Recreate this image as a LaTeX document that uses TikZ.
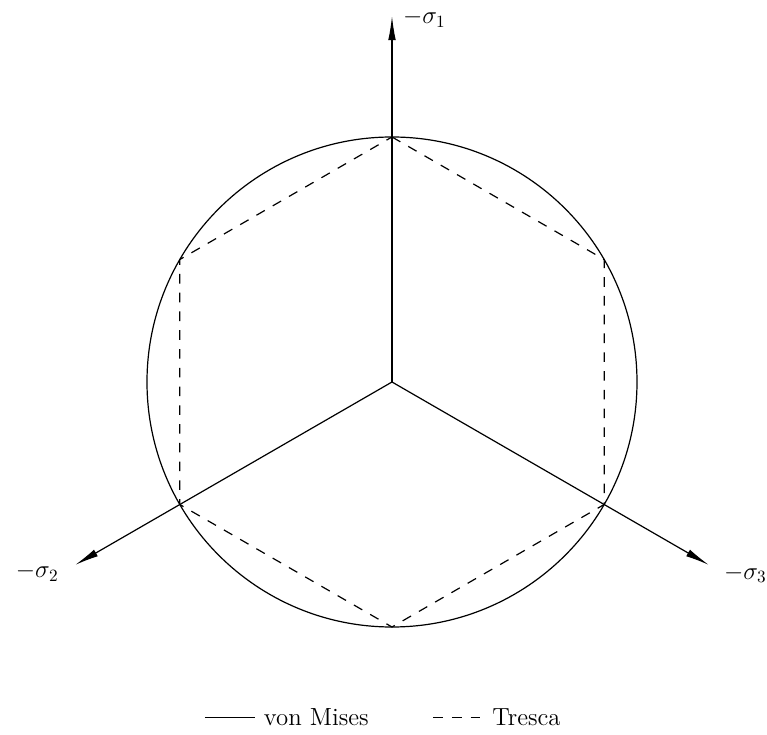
\documentclass[tikz,border=0pt]{standalone}
\usepackage{amsmath}
\usetikzlibrary{arrows.meta,positioning,calc}

\begin{document}
\begin{tikzpicture}[
	x=49pt/1.7215,y=49pt/1.7215,
	axis/.style={
		-{Latex[length=14pt,width=4.4pt]},
		line width=0.7pt
	},
	vonmises/.style={
		line width=0.7pt
	},
	tresca/.style={
		dash pattern=on 5.6pt off 5.3pt,
		line width=0.7pt
	},
	axislabel/.style={
		inner sep=0pt,
		font=\Large
	},
	legend/.style={
		inner sep=0pt,
		font=\Large
	}
	]
	
	\useasboundingbox (-8.0,-7.184) rectangle (7.653,7.796);
	
	% -------------------------------------------------------------------------
	% Origin and principal stress axes
	% -------------------------------------------------------------------------
	
	\coordinate (O) at (0,0);
	\coordinate (S1) at (90:7.47);
	\coordinate (S2) at (210:7.47);
	\coordinate (S3) at (-30:7.47);
	
	\draw[axis] (O) -- (S1);
	\draw[axis] (O) -- (S2);
	\draw[axis] (O) -- (S3);
	
	\node[axislabel,anchor=west] (L1) at ($(S1)+(0.22,-0.04)$) {$-\sigma_1$};
	\node[axislabel,anchor=east] (L2) at ($(S2)+(-0.33,-0.15)$) {$-\sigma_2$};
	\node[axislabel,anchor=west] (L3) at ($(S3)+(0.3,-0.18)$) {$-\sigma_3$};
	
	% -------------------------------------------------------------------------
	% Yield surfaces
	% -------------------------------------------------------------------------
	
	\draw[vonmises] (O) circle (5);
	
	\draw[tresca] (90:5) -- (30:5) -- (-30:5) -- (-90:5) -- (-150:5) -- (150:5) -- cycle;
	
	% -------------------------------------------------------------------------
	% Legend
	% -------------------------------------------------------------------------
	
	\coordinate (VMa) at (-3.82,-6.84);
	\coordinate (VMb) at (-2.80,-6.84);
	\node[legend,anchor=west] (VM) at ($(VMb)+(0.18,0)$) {von Mises};
	\draw[vonmises] (VMa) -- (VMb);
	
	\coordinate (TRa) at (0.84,-6.84);
	\coordinate (TRb) at (1.80,-6.84);
	\node[legend,anchor=west] (TR) at ($(TRb)+(0.24,0)$) {Tresca};
	\draw[tresca] (TRa) -- (TRb);
	
\end{tikzpicture}
\end{document}
